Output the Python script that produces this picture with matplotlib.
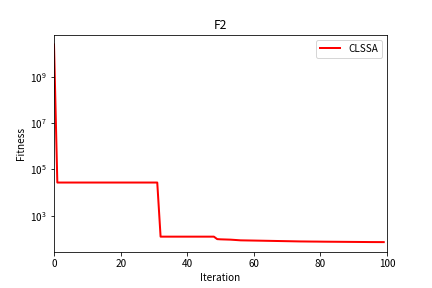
import matplotlib
matplotlib.use("Agg")
import matplotlib.pyplot as plt
from matplotlib.ticker import FixedLocator, NullLocator, LogFormatterSciNotation

plt.rcParams['font.family'] = ['Noto Sans CJK SC', 'DejaVu Sans']

iterations = list(range(100))
fitness = ([2.5e10] + [2.7e4] * 31 + [124.0] * 17 +
           [97.0, 95.0, 94.0, 93.0, 92.0, 90.0, 88.0, 86.0] +
           [85.5, 85.0, 84.5, 84.0, 83.5, 83.0, 82.5, 82.0, 81.5, 81.0, 80.5, 80.0, 79.5, 79.0] +
           [78.5, 78.0, 77.5, 77.0, 76.8, 76.5, 76.2, 76.0, 75.8, 75.5] +
           [75.2, 75.0, 74.8, 74.6, 74.4, 74.2, 74.0, 73.8, 73.6, 73.4] +
           [73.2, 73.0, 72.8, 72.6, 72.4, 72.3, 72.2, 72.1, 72.0, 72.0])
fitness = fitness[:100]
yticks = [1e3, 1e5, 1e7, 1e9]

fig = plt.figure(figsize=(6, 4), dpi=72)
fig.subplots_adjust(left=0.125, right=0.896, top=0.88, bottom=0.125)
ax = fig.add_subplot(111)
ax.plot(iterations, fitness, color='red', linewidth=2, label='CLSSA')
ax.set_yscale('log')
ax.yaxis.set_major_locator(FixedLocator(yticks))
ax.yaxis.set_major_formatter(LogFormatterSciNotation())
ax.yaxis.set_minor_locator(NullLocator())
ax.set_xlim(0, 100)
ax.set_title('F2')
ax.set_xlabel('Iteration')
ax.set_ylabel('Fitness')
ax.legend(loc='upper right')
fig.savefig('out.png', dpi=72)
